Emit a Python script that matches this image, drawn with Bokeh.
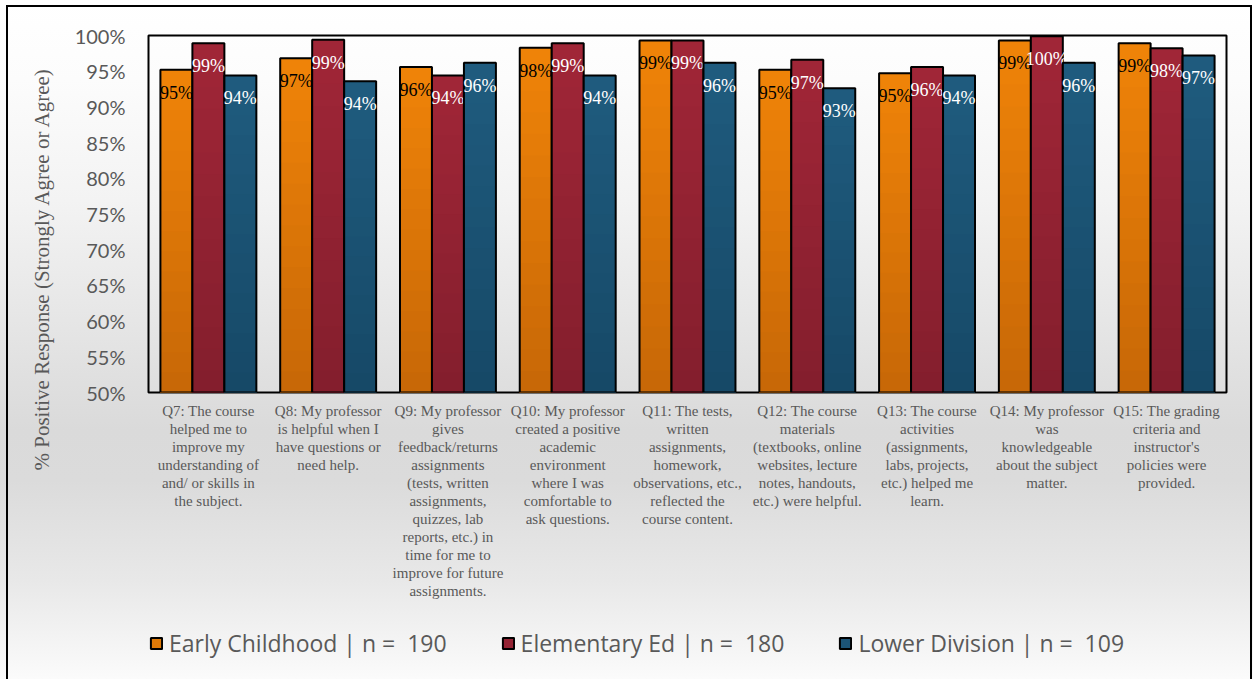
import numpy as np
from bokeh.plotting import figure
from bokeh.layouts import column
from bokeh.models import (FactorRange, Range1d, FixedTicker, Legend, LegendItem,
                          ColumnDataSource, Title)
from bokeh.transform import dodge
from bokeh.core.properties import value
from bokeh.embed import file_html
from bokeh.resources import INLINE

# ---------------- data ----------------
categories = [
    "Q7: The course\nhelped me to\nimprove my\nunderstanding of\nand/ or skills in\nthe subject.",
    "Q8: My professor\nis helpful when I\nhave questions or\nneed help.",
    "Q9: My professor\ngives\nfeedback/returns\nassignments\n(tests, written\nassignments,\nquizzes, lab\nreports, etc.) in\ntime for me to\nimprove for future\nassignments.",
    "Q10: My professor\ncreated a positive\nacademic\nenvironment\nwhere I was\ncomfortable to\nask questions.",
    "Q11: The tests,\nwritten\nassignments,\nhomework,\nobservations, etc.,\nreflected the\ncourse content.",
    "Q12: The course\nmaterials\n(textbooks, online\nwebsites, lecture\nnotes, handouts,\netc.) were helpful.",
    "Q13: The course\nactivities\n(assignments,\nlabs, projects,\netc.) helped me\nlearn.",
    "Q14: My professor\nwas\nknowledgeable\nabout the subject\nmatter.",
    "Q15: The grading\ncriteria and\ninstructor's\npolicies were\nprovided.",
]
early_childhood = [95.2, 96.8, 95.6, 98.3, 99.3, 95.2, 94.7, 99.3, 98.9]
elementary_ed = [98.9, 99.4, 94.4, 98.9, 99.3, 96.6, 95.6, 99.9, 98.2]
lower_division = [94.4, 93.6, 96.2, 94.4, 96.2, 92.6, 94.4, 96.2, 97.2]
series_names = ["Early Childhood | n =  190", "Elementary Ed | n =  180", "Lower Division | n =  109"]
y_ticks = [50, 55, 60, 65, 70, 75, 80, 85, 90, 95, 100]
y_tick_labels = ["50%", "55%", "60%", "65%", "70%", "75%", "80%", "85%", "90%", "95%", "100%"]
y_title = "% Positive Response (Strongly Agree or Agree)"

# ---------------- styling ----------------
series_values = [early_childhood, elementary_ed, lower_division]
top_colors = [(239, 131, 8), (160, 38, 55), (31, 91, 126)]
bottom_colors = [(200, 104, 7), (132, 30, 45), (22, 73, 103)]
mid_colors = ["#e07a08", "#942334", "#1c5477"]
label_colors = ["#000000", "#ffffff", "#ffffff"]
offsets = [-0.267, 0.0, 0.267]
bar_w = 0.267
base = 50
GREY = "#595959"
SERIF = "Liberation Serif"

MAIN_H = 625
p = figure(width=1253, height=MAIN_H, x_range=FactorRange(*categories),
           y_range=Range1d(50, 100), output_backend="svg", toolbar_location=None,
           min_border_left=148, min_border_right=27, min_border_top=35,
           min_border_bottom=MAIN_H - 392)
p.border_fill_color = None
p.background_fill_color = None
p.outline_line_color = "black"
p.outline_line_width = 2
p.xgrid.grid_line_color = None
p.ygrid.grid_line_color = None

def hexc(c):
    return "#%02x%02x%02x" % c

n_slices = 16
for i, vals in enumerate(series_values):
    src_data = {"cat": categories, "val": vals, "lbl": [f"{round(v)}%" for v in vals]}
    for k in range(n_slices):
        frac = (n_slices - k) / n_slices
        src_data[f"t{k}"] = [base + (v - base) * frac for v in vals]
    src = ColumnDataSource(src_data)
    xs = dodge("cat", offsets[i], range=p.x_range)
    for k in range(n_slices):
        t = k / (n_slices - 1)
        c = tuple(int(round(top_colors[i][j] * (1 - t) + bottom_colors[i][j] * t)) for j in range(3))
        p.vbar(x=xs, top=f"t{k}", bottom=base, width=bar_w, source=src,
               fill_color=hexc(c), line_color=None)
    p.vbar(x=xs, top="val", bottom=base, width=bar_w, source=src,
           fill_color=None, line_color="black", line_width=2)
    p.text(x=xs, y="val", text="lbl", source=src, text_color=label_colors[i],
           text_font=value(SERIF), text_font_size="18px", text_align="center",
           text_baseline="middle", y_offset=23)

# axes
p.yaxis.ticker = FixedTicker(ticks=y_ticks)
p.yaxis.major_label_overrides = dict(zip(y_ticks, y_tick_labels))
p.yaxis.major_label_text_font = "Lato"
p.yaxis.major_label_text_font_size = "20px"
p.yaxis.major_label_text_color = GREY
p.yaxis.major_label_standoff = 17
p.yaxis.axis_line_color = None
p.yaxis.major_tick_line_color = None
p.yaxis.minor_tick_line_color = None

p.xaxis.major_label_text_font = SERIF
p.xaxis.major_label_text_font_size = "15px"
p.xaxis.major_label_text_color = GREY
p.xaxis.major_label_text_line_height = 1.125
p.xaxis.major_label_standoff = 4
p.xaxis.axis_line_color = None
p.xaxis.major_tick_line_color = None
p.xaxis.minor_tick_line_color = None

# y title
p.add_layout(Title(text=y_title, align="left", offset=-78, standoff=36,
                   text_font=SERIF, text_font_size="21px", text_font_style="normal",
                   text_color=GREY), "left")

# legend figure
lg = figure(width=1253, height=679 - MAIN_H, output_backend="svg", toolbar_location=None,
            x_axis_location=None, y_axis_location=None, min_border=0,
            x_range=Range1d(0, 1), y_range=Range1d(0, 1))
lg.border_fill_color = None
lg.background_fill_color = None
lg.outline_line_color = None
lg.xgrid.grid_line_color = None
lg.ygrid.grid_line_color = None
items = []
for i in range(3):
    dummy = ColumnDataSource(dict(x=np.array([np.nan]), top=np.array([np.nan])))
    r = lg.vbar(x="x", top="top", bottom=0, width=0.1, source=dummy,
                fill_color=mid_colors[i], line_color="black", line_width=2)
    items.append(LegendItem(label=series_names[i], renderers=[r]))
legend = Legend(items=items, location=(1, 20), orientation="horizontal",
                background_fill_alpha=0, border_line_color=None, padding=0, margin=0,
                spacing=54, glyph_width=14, glyph_height=14, label_standoff=6,
                label_text_font="Open Sans",
                label_text_font_size="23px", label_text_color=GREY)
lg.add_layout(legend)

line = "linear-gradient(#000,#000)"
layout = column(p, lg, spacing=0)
layout.styles = {"background": (
    f"{line} 6px 5px / 2px 700px no-repeat, "
    f"{line} 6px 5px / 1246px 2px no-repeat, "
    f"{line} 1250px 5px / 2px 700px no-repeat, "
    "linear-gradient(to bottom, #ffffff 0px, #fcfcfc 80px, #f3f3f3 200px, "
    "#e6e6e6 320px, #dadada 430px, #dbdbdb 480px, #e8e8e8 580px, #fbfbfb 679px)")}

open("out.html", "w").write(file_html(layout, INLINE))
